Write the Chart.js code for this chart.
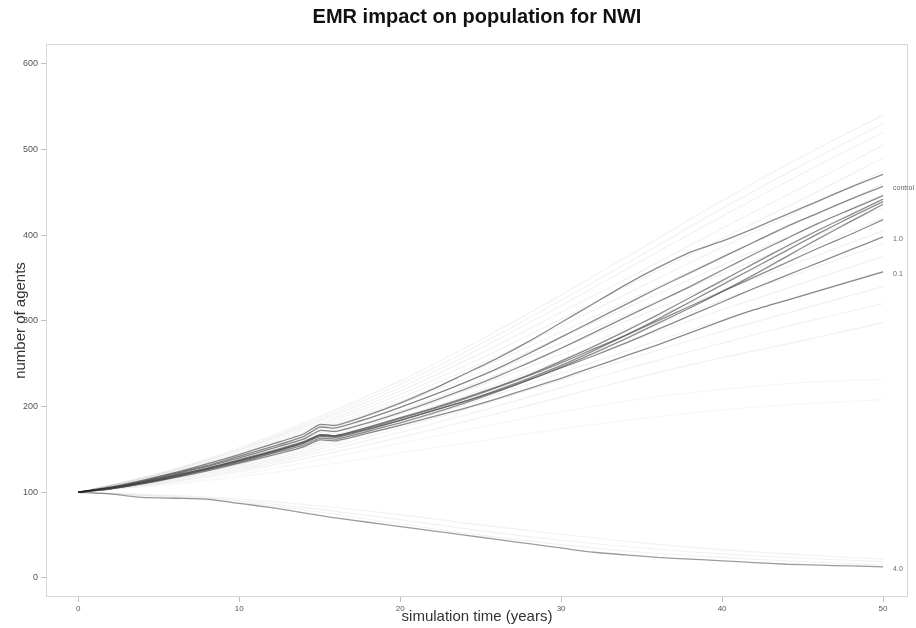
<!DOCTYPE html>
<html>
<head>
<meta charset="utf-8">
<script src="https://cdn.jsdelivr.net/npm/chart.js@4.4.1/dist/chart.umd.min.js"></script>
<style>
  html, body { margin: 0; padding: 0; background: #ffffff; }
  #wrap { width: 916px; height: 628px; }
</style>
</head>
<body>
<div id="wrap"><canvas id="c" width="916" height="628"></canvas></div>
<script>
// Simulation years for the highlighted runs (extra point at year 15)
const yearsFine = [0, 2, 4, 6, 8, 10, 12, 14, 15, 16, 18, 20, 22, 24, 26, 28, 30, 32, 34, 36, 38, 40, 42, 44, 46, 48, 50];
// Simulation years for the background ensemble runs
const yearsCoarse = [0, 5, 10, 15, 20, 25, 30, 35, 40, 45, 50];

// Highlighted runs: population (number of agents)
const runA = [100, 106, 114, 123, 133, 144, 156, 168, 179, 178, 190, 204, 220, 238, 256, 276, 298, 320, 342, 362, 380, 393, 408, 424, 440, 456, 471];
const runControl = [100, 105, 113, 122, 131, 142, 153, 165, 176, 175, 186, 199, 213, 228, 244, 262, 281, 300, 319, 338, 356, 374, 392, 410, 426, 442, 457];
const runC = [100, 105, 112, 121, 130, 140, 151, 162, 172, 171, 181, 193, 206, 220, 235, 251, 268, 286, 304, 322, 340, 359, 378, 396, 414, 430, 446];
const runD = [100, 105, 112, 120, 128, 138, 148, 159, 167, 166, 176, 187, 198, 210, 223, 237, 253, 270, 288, 307, 327, 347, 367, 387, 406, 424, 442];
const runE = [100, 105, 111, 119, 127, 136, 146, 157, 165, 164, 173, 184, 195, 206, 219, 233, 248, 265, 283, 302, 322, 342, 362, 382, 402, 421, 439];
const runF = [100, 104, 110, 118, 126, 135, 145, 155, 163, 162, 171, 181, 192, 204, 217, 231, 246, 262, 279, 297, 315, 334, 354, 375, 396, 416, 436];
const runG = [100, 104, 111, 118, 127, 137, 147, 158, 167, 166, 175, 186, 197, 209, 222, 236, 251, 267, 283, 300, 317, 334, 351, 368, 385, 401, 418];
const run10 = [100, 105, 111, 119, 128, 137, 147, 158, 166, 165, 174, 184, 195, 206, 218, 231, 245, 259, 274, 290, 306, 322, 338, 353, 368, 383, 398];
const run01 = [100, 104, 110, 117, 125, 134, 143, 153, 161, 160, 169, 178, 188, 198, 209, 221, 233, 246, 259, 272, 286, 300, 313, 324, 335, 346, 357];
const run40 = [100, 98, 94, 93, 92, 87, 82, 76, 73, 70, 65, 60, 55, 50, 45, 40, 35, 30, 27, 24, 22, 20, 18, 16, 15, 14, 13];

// Background ensemble runs
const ens01 = [100, 122, 152, 188, 230, 278, 330, 385, 440, 492, 540];
const ens02 = [100, 121, 150, 185, 226, 273, 324, 377, 431, 482, 530];
const ens03 = [100, 121, 149, 183, 222, 268, 318, 370, 422, 472, 520];
const ens04 = [100, 120, 147, 180, 218, 262, 310, 358, 408, 456, 505];
const ens05 = [100, 119, 145, 177, 214, 256, 302, 349, 396, 442, 490];
const ens06 = [100, 118, 143, 174, 210, 250, 294, 340, 386, 430, 475];
const ens07 = [100, 118, 142, 172, 206, 245, 287, 331, 375, 417, 460];
const ens08 = [100, 117, 140, 169, 203, 240, 281, 323, 365, 405, 448];
const ens09 = [100, 116, 138, 166, 199, 235, 274, 315, 355, 393, 432];
const ens10 = [100, 116, 137, 164, 195, 230, 268, 307, 345, 382, 420];
const ens11 = [100, 115, 135, 161, 191, 225, 261, 298, 335, 370, 405];
const ens12 = [100, 114, 133, 158, 187, 219, 254, 289, 324, 357, 390];
const ens13 = [100, 114, 132, 156, 183, 214, 247, 281, 313, 344, 375];
const ens14 = [100, 113, 130, 153, 179, 208, 239, 271, 301, 330, 358];
const ens15 = [100, 112, 128, 150, 175, 202, 231, 260, 288, 314, 340];
const ens16 = [100, 111, 126, 147, 170, 195, 222, 249, 274, 298, 320];
const ens17 = [100, 110, 124, 143, 164, 187, 211, 235, 257, 277, 298];
const ens18 = [100, 109, 121, 138, 157, 176, 194, 209, 220, 228, 232];
const ens19 = [100, 108, 118, 131, 146, 160, 174, 186, 196, 203, 208];
const ens20 = [100, 96, 90, 80, 68, 55, 44, 35, 28, 23, 19];
const ens21 = [100, 95, 88, 77, 63, 50, 39, 30, 24, 19, 15];
const ens22 = [100, 97, 92, 84, 74, 62, 51, 41, 33, 27, 22];

const xTicks = [0, 10, 20, 30, 40, 50];
const yTicks = [0, 100, 200, 300, 400, 500, 600];

const toPoints = (xs, ys) => xs.map((x, i) => ({ x: x, y: ys[i] }));

const ensembleRuns = [ens01, ens02, ens03, ens04, ens05, ens06, ens07, ens08, ens09, ens10, ens11,
                      ens12, ens13, ens14, ens15, ens16, ens17, ens18, ens19, ens20, ens21, ens22];
const faintRuns = [ens18, ens19];
const highlighted = [
  { label: '', data: runA },
  { label: 'control', data: runControl },
  { label: '', data: runC },
  { label: '', data: runD },
  { label: '', data: runE },
  { label: '', data: runF },
  { label: '', data: runG },
  { label: '1.0', data: run10 },
  { label: '0.1', data: run01 },
  { label: '4.0', data: run40 }
];

const datasets = [];
ensembleRuns.forEach(r => datasets.push({
  data: toPoints(yearsCoarse, r),
  borderColor: faintRuns.includes(r) ? 'rgba(0,0,0,0.035)' : 'rgba(0,0,0,0.055)',
  borderWidth: 1.2,
  pointRadius: 0,
  tension: 0.3,
  runLabel: ''
}));
highlighted.forEach(h => datasets.push({
  data: toPoints(yearsFine, h.data),
  borderColor: h.label === '4.0' ? 'rgba(90,90,90,0.6)' : 'rgba(80,80,80,0.66)',
  borderWidth: 1.3,
  pointRadius: 0,
  tension: 0.2,
  runLabel: h.label
}));

const FONT = '"Liberation Sans", Arial, Helvetica, sans-serif';

// Panel frame and end-of-line run labels
const panelPlugin = {
  id: 'panel',
  beforeDatasetsDraw(chart) {
    const a = chart.chartArea, ctx = chart.ctx;
    ctx.save();
    ctx.strokeStyle = 'rgba(0,0,0,0.16)';
    ctx.lineWidth = 1;
    ctx.strokeRect(a.left + 0.5, a.top + 0.5, a.right - a.left - 1, a.bottom - a.top - 1);
    ctx.restore();
  },
  afterDatasetsDraw(chart) {
    const ctx = chart.ctx, xs = chart.scales.x, ys = chart.scales.y;
    ctx.save();
    ctx.font = '7px ' + FONT;
    ctx.fillStyle = '#666';
    ctx.textBaseline = 'middle';
    ctx.textAlign = 'left';
    chart.data.datasets.forEach(ds => {
      if (!ds.runLabel) return;
      const last = ds.data[ds.data.length - 1];
      ctx.fillText(ds.runLabel, xs.getPixelForValue(last.x) + 10, ys.getPixelForValue(last.y) + 2);
    });
    ctx.restore();
  }
};

new Chart(document.getElementById('c'), {
  type: 'line',
  data: { datasets: datasets },
  plugins: [panelPlugin],
  options: {
    responsive: false,
    animation: false,
    devicePixelRatio: 1,
    layout: { padding: { left: 0, right: 8, top: 0, bottom: 0 } },
    plugins: {
      legend: { display: false },
      tooltip: { enabled: false },
      title: {
        display: true,
        fullSize: false,
        text: 'EMR impact on population for NWI',
        color: '#111',
        font: { family: FONT, size: 20, weight: 'bold' },
        padding: { top: 5, bottom: 15 }
      }
    },
    scales: {
      x: {
        type: 'linear',
        min: -2,
        max: 51.55,
        afterBuildTicks: s => { s.ticks = xTicks.map(v => ({ value: v })); },
        afterFit: s => { s.height = 31; },
        ticks: { color: '#555', font: { family: FONT, size: 8 }, padding: 2, maxRotation: 0 },
        grid: { drawOnChartArea: false, drawTicks: true, tickLength: 5, color: 'rgba(0,0,0,0.25)' },
        border: { display: false },
        title: {
          display: true,
          text: 'simulation time (years)',
          color: '#333',
          font: { family: FONT, size: 15 },
          padding: { top: 0, bottom: 2 }
        }
      },
      y: {
        type: 'linear',
        min: -22.2,
        max: 623,
        afterBuildTicks: s => { s.ticks = yTicks.map(v => ({ value: v })); },
        afterFit: s => { s.width = 46; },
        ticks: { color: '#555', font: { family: FONT, size: 9 }, padding: 3 },
        grid: { drawOnChartArea: false, drawTicks: true, tickLength: 5, color: 'rgba(0,0,0,0.25)' },
        border: { display: false },
        title: {
          display: true,
          text: 'number of agents',
          color: '#333',
          font: { family: FONT, size: 15 },
          padding: { top: 12, bottom: 0 }
        }
      }
    }
  }
});
</script>
</body>
</html>
